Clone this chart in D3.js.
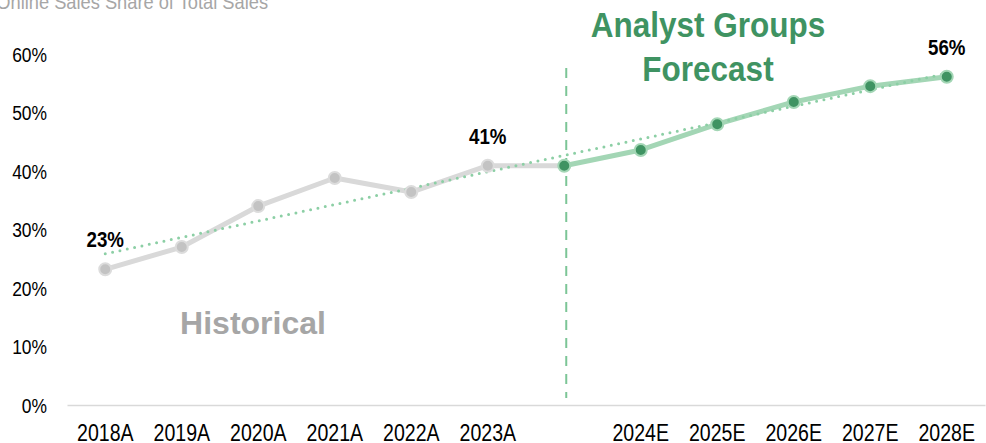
<!DOCTYPE html>
<html lang="en">
<head>
<meta charset="UTF-8">
<title>Online Sales Share of Total Sales</title>
<script src="https://d3js.org/d3.v7.min.js"></script>
<style>
	body { margin: 0; background: #fff; }
	text { font-family: "Liberation Sans Narrow", "Arial Narrow", "Liberation Sans", sans-serif; }
</style>
</head>
<body>
<script>
	// categories ("" is the gap between actuals and estimates)
	const categories = ["2018A", "2019A", "2020A", "2021A", "2022A", "2023A", "", "2024E", "2025E", "2026E", "2027E", "2028E"];
	const shareValues = [23.2, 27.0, 34.0, 38.8, 36.4, 40.9, 40.9, 43.6, 48.0, 51.8, 54.5, 56.1];
	const yTicks = [0, 10, 20, 30, 40, 50, 60];
	const labelled = [{ i: 0, text: "23%" }, { i: 5, text: "41%" }, { i: 11, text: "56%" }];
	const splitIndex = 6;

	const width = 986;
	const height = 443;

	// squeeze text horizontally to mimic a narrow face
	function narrow(sel, k, origin) {
		sel.style("transform-box", "fill-box")
			.style("transform-origin", origin)
			.style("transform", "scaleX(" + k + ")");
	}

	const svg = d3.select("body").append("svg")
		.attr("width", width)
		.attr("height", height);

	const x = d3.scaleBand()
		.domain(categories)
		.range([67, 985])
		.padding(0);

	const y = d3.scaleLinear()
		.domain([0, 60])
		.range([405, 54]);

	const cx = i => x(categories[i]) + x.bandwidth() / 2;

	// title (cut at the top-left like the source)
	svg.append("text")
		.attr("x", 268)
		.attr("y", 8.5)
		.attr("text-anchor", "end")
		.attr("font-size", "21px")
		.attr("fill", "#a6a6a6")
		.text("Online Sales Share of Total Sales")
		.call(narrow, 0.87, "right");

	// y axis labels
	const yAxis = d3.axisLeft(y)
		.tickValues(yTicks)
		.tickFormat(d => d + "%")
		.tickSize(0)
		.tickPadding(0);
	const gy = svg.append("g")
		.attr("transform", "translate(47,0)")
		.call(yAxis);
	gy.select(".domain").remove();
	gy.selectAll("text")
		.attr("font-size", "21px")
		.attr("fill", "#000")
		.attr("dy", "0.35em")
		.call(narrow, 0.83, "right");

	// x axis
	const xAxis = d3.axisBottom(x).tickSize(0).tickPadding(0);
	const gx = svg.append("g")
		.attr("transform", "translate(0,405)")
		.call(xAxis);
	gx.select(".domain").attr("stroke", "#d9d9d9").attr("stroke-width", 1.5);
	gx.selectAll("text")
		.attr("font-size", "23px")
		.attr("fill", "#000")
		.attr("y", 36)
		.attr("dy", 0)
		.call(narrow, 0.85, "center");

	// linear trendline through all points
	const idx = shareValues.map((d, i) => i);
	const mx = d3.mean(idx);
	const my = d3.mean(shareValues);
	const slope = d3.sum(idx, i => (i - mx) * (shareValues[i] - my)) / d3.sum(idx, i => (i - mx) * (i - mx));
	const intercept = my - slope * mx;
	const last = categories.length - 1;

	// forecast divider
	svg.append("line")
		.attr("x1", cx(splitIndex) + 2)
		.attr("x2", cx(splitIndex) + 2)
		.attr("y1", 68)
		.attr("y2", 398)
		.attr("stroke", "#7cc596")
		.attr("stroke-width", 2)
		.attr("stroke-dasharray", "10,8");

	const line = d3.line()
		.x(d => x(d.c) + x.bandwidth() / 2)
		.y(d => y(d.v));

	const pts = shareValues.map((v, i) => ({ c: categories[i], v: v, i: i }));
	const hist = pts.slice(0, splitIndex + 1);
	const fcst = pts.slice(splitIndex);

	svg.append("path")
		.datum(hist)
		.attr("d", line)
		.attr("fill", "none")
		.attr("stroke", "#d9d9d9")
		.attr("stroke-width", 5)
		.attr("stroke-linejoin", "round");

	svg.append("path")
		.datum(fcst)
		.attr("d", line)
		.attr("fill", "none")
		.attr("stroke", "#a3d6b5")
		.attr("stroke-width", 5)
		.attr("stroke-linejoin", "round");

	svg.append("line")
		.attr("x1", cx(0))
		.attr("y1", y(intercept))
		.attr("x2", cx(last))
		.attr("y2", y(intercept + slope * last))
		.attr("stroke", "#8ccfa5")
		.attr("stroke-width", 3)
		.attr("stroke-linecap", "round")
		.attr("stroke-dasharray", "0,7.5");

	svg.selectAll("circle.hist")
		.data(hist.slice(0, splitIndex))
		.enter()
		.append("circle")
		.attr("class", "hist")
		.attr("cx", d => x(d.c) + x.bandwidth() / 2)
		.attr("cy", d => y(d.v))
		.attr("r", 6)
		.attr("fill", "#c3c3c3")
		.attr("stroke", "#dcdcdc")
		.attr("stroke-width", 2);

	svg.selectAll("circle.fcst")
		.data(fcst)
		.enter()
		.append("circle")
		.attr("class", "fcst")
		.attr("cx", d => x(d.c) + x.bandwidth() / 2)
		.attr("cy", d => y(d.v))
		.attr("r", 6)
		.attr("fill", "#3f9362")
		.attr("stroke", "#a3d6b5")
		.attr("stroke-width", 2);

	// value labels
	svg.selectAll("text.val")
		.data(labelled)
		.enter()
		.append("text")
		.attr("class", "val")
		.attr("x", d => cx(d.i))
		.attr("y", d => y(shareValues[d.i]) - 22)
		.attr("text-anchor", "middle")
		.attr("font-size", "22px")
		.attr("font-weight", "bold")
		.attr("fill", "#000")
		.text(d => d.text)
		.call(narrow, 0.85, "center");

	// annotations
	svg.append("text")
		.attr("x", 253)
		.attr("y", 334)
		.attr("text-anchor", "middle")
		.attr("font-size", "32px")
		.attr("font-weight", "bold")
		.attr("fill", "#a6a6a6")
		.text("Historical");

	const fc = svg.append("text")
		.attr("text-anchor", "middle")
		.attr("font-size", "35px")
		.attr("font-weight", "bold")
		.attr("fill", "#3f9362");
	fc.append("tspan").attr("x", 708).attr("y", 37).text("Analyst Groups");
	fc.append("tspan").attr("x", 708).attr("y", 81).text("Forecast");
	fc.call(narrow, 0.9, "center");
</script>
</body>
</html>
